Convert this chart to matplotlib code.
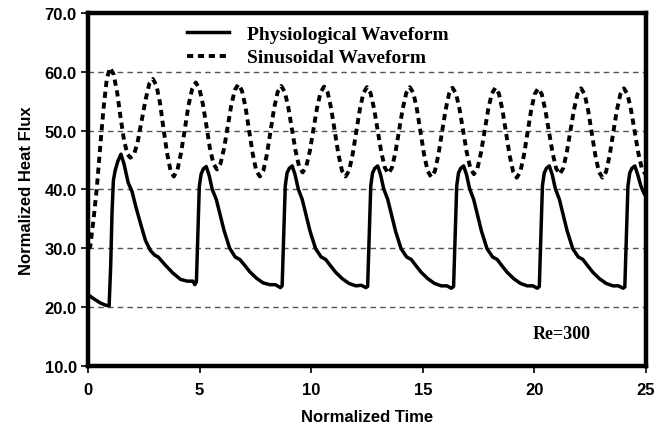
import matplotlib
matplotlib.use('Agg')
import matplotlib.pyplot as plt

# physiological waveform (solid)
phys_t = [0.00, 0.30, 0.55, 0.80, 0.95, 1.02, 1.08, 1.14, 1.22, 1.34, 1.48, 1.62, 1.80, 1.98, 2.15, 2.35, 2.58, 2.80, 3.00, 3.15, 3.45, 3.80, 4.15, 4.45, 4.70, 4.79,
          4.86, 4.92, 4.99, 5.07, 5.17, 5.30, 5.43, 5.57, 5.75, 5.90, 6.10, 6.35, 6.60, 6.80, 7.00, 7.25, 7.55, 7.85, 8.15, 8.40, 8.62,
          8.70, 8.77, 8.84, 8.92, 9.02, 9.15, 9.28, 9.42, 9.60, 9.75, 9.95, 10.20, 10.45, 10.65, 10.85, 11.10, 11.40, 11.70, 12.00, 12.25, 12.45,
          12.53, 12.60, 12.67, 12.75, 12.85, 12.98, 13.11, 13.25, 13.43, 13.58, 13.78, 14.03, 14.28, 14.48, 14.68, 14.93, 15.23, 15.53, 15.83, 16.08, 16.28,
          16.38, 16.45, 16.52, 16.60, 16.70, 16.83, 16.96, 17.10, 17.28, 17.43, 17.63, 17.88, 18.13, 18.33, 18.53, 18.78, 19.08, 19.38, 19.68, 19.93, 20.13,
          20.22, 20.29, 20.36, 20.44, 20.54, 20.67, 20.80, 20.94, 21.12, 21.27, 21.47, 21.72, 21.97, 22.17, 22.37, 22.62, 22.92, 23.22, 23.52, 23.77, 23.97,
          24.05, 24.12, 24.19, 24.27, 24.37, 24.50, 24.63, 24.77, 24.90, 25.00]
phys_q = [22.1, 21.3, 20.7, 20.3, 20.2, 27.0, 36.0, 41.5, 43.2, 44.8, 46.0, 44.3, 41.2, 39.6, 37.0, 34.3, 31.3, 29.6, 28.8, 28.5, 27.2, 25.8, 24.7, 24.4, 24.4, 23.8,
          24.3, 32.0, 40.5, 42.6, 43.5, 43.9, 42.4, 40.0, 38.3, 36.0, 33.0, 30.0, 28.5, 28.1, 27.2, 26.0, 24.9, 24.1, 23.8, 23.8, 23.3,
          23.6, 32.0, 40.6, 42.8, 43.6, 44.0, 42.5, 40.1, 38.3, 36.0, 32.9, 29.9, 28.5, 28.1, 27.1, 25.9, 24.8, 24.0, 23.6, 23.7, 23.3,
          23.5, 32.0, 40.6, 42.8, 43.6, 44.0, 42.5, 40.1, 38.3, 36.0, 32.9, 29.9, 28.5, 28.1, 27.1, 25.9, 24.8, 24.0, 23.6, 23.6, 23.2,
          23.5, 32.0, 40.6, 42.8, 43.6, 44.0, 42.5, 40.1, 38.3, 36.0, 32.9, 29.9, 28.5, 28.1, 27.1, 25.9, 24.8, 24.0, 23.6, 23.6, 23.2,
          23.5, 32.0, 40.6, 42.8, 43.6, 44.0, 42.5, 40.1, 38.3, 36.0, 32.9, 29.9, 28.5, 28.1, 27.1, 25.9, 24.8, 24.0, 23.6, 23.6, 23.2,
          23.4, 32.0, 40.6, 42.8, 43.6, 44.0, 42.5, 40.6, 39.4, 38.8]

# sinusoidal waveform (dotted)
sin_t = [0.00, 0.10, 0.25, 0.40, 0.55, 0.70, 0.85, 0.99,
         1.15, 1.31, 1.46, 1.62, 1.77, 1.90,
         2.06, 2.22, 2.40, 2.58, 2.75, 2.91,
         3.07, 3.23, 3.38, 3.54, 3.70, 3.85,
         4.01, 4.17, 4.34, 4.50, 4.67, 4.83,
         4.99, 5.15, 5.31, 5.46, 5.62, 5.78,
         5.94, 6.10, 6.26, 6.42, 6.58, 6.74,
         6.90, 7.06, 7.22, 7.38, 7.54, 7.70,
         7.86, 8.02, 8.18, 8.34, 8.50, 8.66,
         8.82, 8.98, 9.14, 9.30, 9.46, 9.62,
         9.78, 9.94, 10.10, 10.26, 10.42, 10.58,
         10.74, 10.90, 11.06, 11.22, 11.38, 11.54,
         11.70, 11.86, 12.02, 12.18, 12.34, 12.50,
         12.66, 12.82, 12.98, 13.14, 13.30, 13.46,
         13.62, 13.78, 13.94, 14.10, 14.26, 14.42,
         14.58, 14.74, 14.90, 15.06, 15.22, 15.38,
         15.54, 15.70, 15.86, 16.02, 16.18, 16.33,
         16.49, 16.65, 16.81, 16.97, 17.13, 17.29,
         17.45, 17.61, 17.77, 17.93, 18.09, 18.25,
         18.41, 18.57, 18.73, 18.89, 19.05, 19.21,
         19.37, 19.53, 19.69, 19.85, 20.01, 20.17,
         20.33, 20.49, 20.65, 20.81, 20.97, 21.13,
         21.29, 21.45, 21.61, 21.77, 21.93, 22.09,
         22.25, 22.41, 22.57, 22.73, 22.89, 23.05,
         23.21, 23.37, 23.53, 23.69, 23.85, 24.01,
         24.17, 24.33, 24.49, 24.65, 24.81, 24.97]
sin_q = [30.0, 30.2, 34.8, 40.3, 47.2, 53.8, 58.9, 60.7,
         59.6, 56.5, 52.3, 48.3, 46.0, 45.4,
         45.9, 47.9, 51.5, 55.2, 58.0, 58.8,
         57.7, 54.7, 50.5, 46.3, 43.2, 42.2,
         43.3, 46.2, 50.2, 54.2, 57.1, 58.2,
         57.2, 54.5, 50.8, 47.1, 44.4, 43.4,
         44.4, 47.0, 50.7, 54.3, 56.9, 57.9,
         56.8, 54.0, 50.0, 46.1, 43.2, 42.2,
         43.2, 46.0, 49.9, 53.8, 56.6, 57.6,
         56.6, 53.9, 50.2, 46.6, 43.9, 42.9,
         43.9, 46.5, 50.2, 53.8, 56.5, 57.5,
         56.5, 53.7, 49.8, 46.0, 43.2, 42.2,
         43.2, 46.0, 49.8, 53.6, 56.4, 57.4,
         56.4, 53.7, 50.0, 46.4, 43.7, 42.7,
         43.7, 46.4, 50.0, 53.7, 56.4, 57.4,
         56.4, 53.6, 49.7, 45.9, 43.1, 42.1,
         43.1, 45.9, 49.7, 53.5, 56.3, 57.3,
         56.3, 53.6, 49.9, 46.3, 43.6, 42.6,
         43.6, 46.3, 49.9, 53.6, 56.3, 57.3,
         56.3, 53.5, 49.6, 45.8, 43.0, 42.0,
         43.0, 45.8, 49.6, 53.4, 56.2, 57.2,
         56.2, 53.5, 49.9, 46.3, 43.6, 42.6,
         43.6, 46.3, 49.9, 53.5, 56.2, 57.2,
         56.2, 53.4, 49.6, 45.8, 43.0, 42.0,
         43.0, 45.8, 49.6, 53.4, 56.2, 57.2,
         56.2, 53.5, 49.9, 46.3, 43.6, 42.6]

x_ticks = [0, 5, 10, 15, 20, 25]
y_ticks = [10, 20, 30, 40, 50, 60, 70]
grid_levels = [20, 30, 40, 50, 60]

fig = plt.figure(figsize=(6.66, 4.27), dpi=100)
ax = fig.add_axes([0.132, 0.141, 0.838, 0.826])

for g in grid_levels:
    ax.axhline(g, color='#555555', lw=1.0, ls=(0, (4, 3)), zorder=1)

ax.plot(phys_t, phys_q, color='black', lw=2.5, label='Physiological Waveform', zorder=3)
ax.plot(sin_t, sin_q, color='black', lw=2.8, ls=(0, (1.6, 1.2)), label='Sinusoidal Waveform', zorder=3)

ax.set_xlim(0, 25)
ax.set_ylim(10, 70)
ax.set_xticks(x_ticks)
ax.set_yticks(y_ticks)
ax.set_yticklabels(['%.1f' % v for v in y_ticks])
for s in ax.spines.values():
    s.set_linewidth(3.2)
ax.tick_params(direction='out', length=5, width=1.2, labelsize=12)
ax.tick_params(axis='x', pad=7)
ax.tick_params(axis='y', pad=3)
for lab in ax.get_xticklabels() + ax.get_yticklabels():
    lab.set_fontweight('bold')
    lab.set_family('Liberation Sans')

ax.set_xlabel('Normalized Time', fontsize=12, fontweight='bold', family='Liberation Sans', labelpad=8)
ax.set_ylabel('Normalized Heat Flux', fontsize=12, fontweight='bold', family='Liberation Sans', labelpad=8)

leg = ax.legend(loc='upper left', bbox_to_anchor=(0.177, 0.965), frameon=False,
                prop={'family': 'Liberation Serif', 'weight': 'bold', 'size': 14},
                handlelength=2.2, handletextpad=0.9, labelspacing=0.3,
                borderpad=0, borderaxespad=0)

ax.text(21.2, 15.5, 'Re=300', fontsize=13, fontweight='bold', family='Liberation Serif',
        ha='center', va='center')

fig.savefig('out.png', dpi=100)
